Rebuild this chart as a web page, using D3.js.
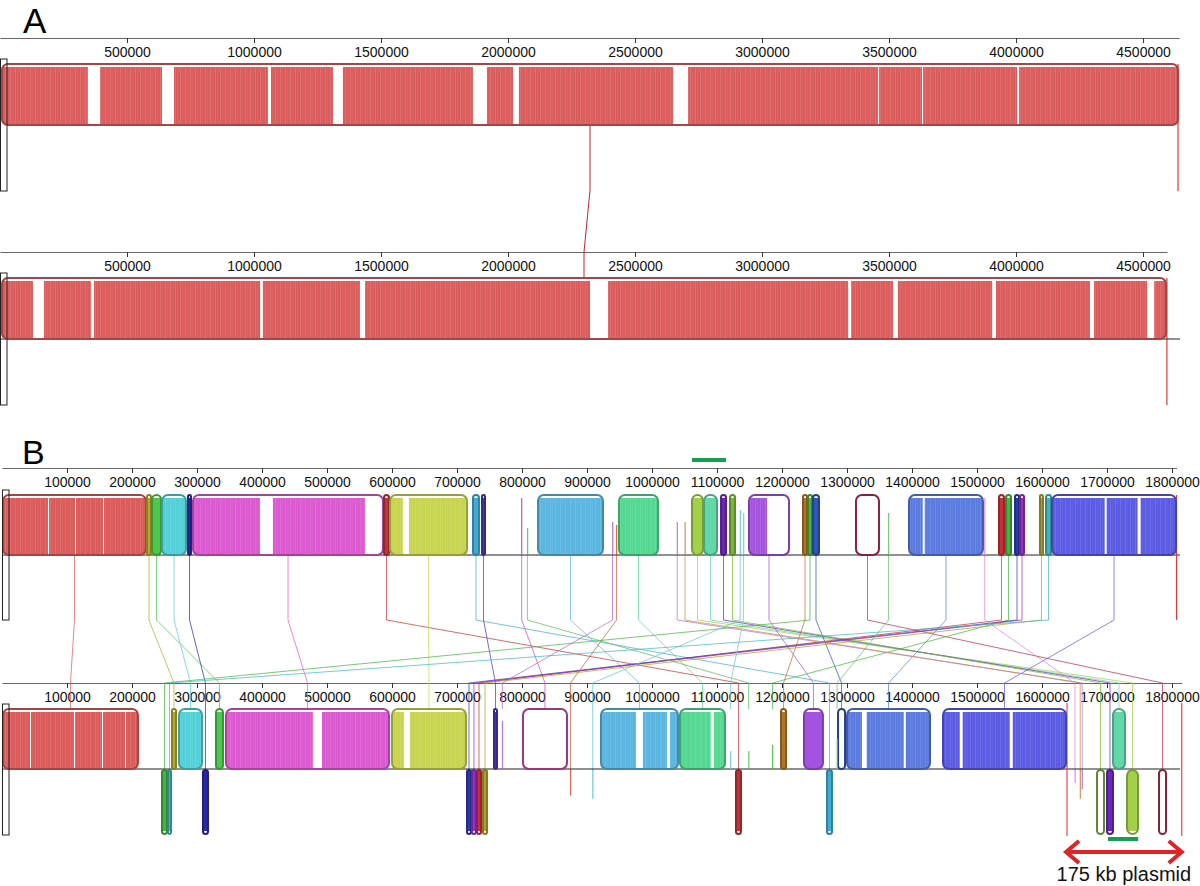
<!DOCTYPE html>
<html><head><meta charset="utf-8">
<script src="https://cdn.jsdelivr.net/npm/d3@7"></script>
<style>body{margin:0;background:#fff}svg{display:block}text{font-family:"Liberation Sans",Arial,Helvetica,sans-serif}</style>
</head><body><svg id="c" width="1200" height="886"></svg>
<script>
// ---------------- DATA ----------------
// Panel A: two ~4.6 Mb genomes, one LCB
const genomeLenA = [4641652, 4594000];
const ticksA = [500000,1000000,1500000,2000000,2500000,3000000,3500000,4000000,4500000];
const lcbA_g1 = [7900, 4638000];
const lcbA_g2 = [7900, 4590500];
const gapsA_g1 = [[346000,394000],[638000,685000],[1055000,1067000],[1311000,1350000],[1862000,1917000],[2020000,2043000],[2650000,2709000],[3457000,3461000],[3630000,3634000],[4004000,4012000]];
const gapsA_g2 = [[130000,173000],[358000,370000],[1024000,1035000],[1417000,1437000],[2323000,2394000],[3339000,3351000],[3516000,3535000],[3906000,3921000],[4291000,4307000],[4516000,4544000]];

// Panel B: 1.81 Mb genome vs genome with 175 kb plasmid
const genomeLenB = [1807000, 1815000];
const ticksB = [100000,200000,300000,400000,500000,600000,700000,800000,900000,1000000,1100000,1200000,1300000,1400000,1500000,1600000,1700000,1800000];
const chromBoundsB2 = [1638500, 1815000];
// LCB coordinates (bp) in genome 1 and genome 2
const lcbB_g1 = [[1500,221500],[223000,229200],[230800,244600],[246200,283100],[286200,290800],[293800,586200],[587700,595400],[596900,715400],[724600,733800],[738500,743100],
 [798500,800500],[824600,924600],[949200,1009200],[1061500,1078500],[1080000,1100000],[1106200,1113800],[1120000,1127700],[1149200,1210800],[1232300,1238500],[1240000,1246200],
 [1247700,1256900],[1313800,1349200],[1395400,1509200],[1533800,1541500],[1544600,1552300],[1558500,1564600],[1566200,1572300],[1596900,1601500],[1606200,1613800],[1615400,1806200],
 [807600,809000],[938500,940000],[944600,946000],[1038000,1039500],[1050000,1051500],[1135000,1136500],[1140000,1141500],[1363000,1364500],[1511000,1512500]];
const lcbB_g2 = [[1500,209200],[261500,267700],[329200,340000],[272300,307700],[309200,316900],[344600,595400],[1129200,1136900],[600000,713800],[1269200,1276900],[756900,761500],
 [801500,869200],[921500,1040000],[1043000,1112300],[1730800,1747700],[1709200,1727700],[1700000,1709200],[1684600,1695400],[1233800,1263000],[1198500,1206200],[246200,253800],
 [1286200,1297000],[1780000,1790800],[1300000,1427700],[730800,736900],[1184600,1186000],[715400,721500],[723000,729200],[740000,746200],[255400,260000],[1447700,1637000],
 [1148000,1149500],[769000,770500],[873800,875300],[1661000,1662500],[1658000,1659500],[908000,909500],[1120000,1121500],[1284000,1285500],[1650000,1651500]];
// 1 = inverted in genome 2
const lcbB_inv = [0,0,0,0,1,0,1,0,1,0, 0,0,0,1,0,1,1,0,0,1, 0,1,0,1,0,1,1,1,1,0, 0,0,1,1,1,1,0,0,1];
// similarity profile height (fraction of track) in genome 1 / genome 2
const lcbB_h1 = [1,1,1,1,1,1,1,1,1,1, .95,1,1,1,1,1,1,1,1,1, 1,0,1,1,1,1,1,1,1,1, .45,.55,.5,.55,.55,.75,.7,.7,.95];
const lcbB_h2 = [1,1,1,1,1,1,1,1,1,1, 0,1,1,1,1,1,0,1,1,1, 0,0,1,1,.4,1,1,1,1,1, .3,.8,.4,.3,.45,.45,.3,.5,.2];
const lcbB_color = ['#dc5a5a','#b4aa30','#4cc84c','#52d0d8','#2a2aa8','#dc58d0','#c43434','#c8d44e','#40acd4','#4a34b8',
 '#c848b0','#5ab6e0','#52d890','#a2d04a','#62d8a8','#6a28b8','#7ab83a','#a452e0','#b07828','#48b442',
 '#3054b8','#b82c4c','#5a7ae0','#c83038','#44b83c','#2c3ab0','#9c30bc','#b0a02a','#3cb8c4','#5a5ae2',
 '#58bc58','#b464cc','#c85a34','#a878d4','#d4884a','#64c4d4','#74c8c8','#64c064','#e084e0'];
// low-similarity (white) stretches inside LCBs: [lcb index, start, end]
const gapsB_g1 = [[0,70800,72300],[0,112300,113800],[0,155400,156900],[5,396800,416800],[5,558300,586200],[7,616700,626000],[17,1176900,1210800],[22,1416500,1419600],[29,1696400,1699500],[29,1747100,1751700]];
const gapsB_g2 = [[0,43100,44600],[0,110700,112200],[0,153800,155300],[0,189200,190700],[5,478300,492200],[7,618300,627500],[11,975400,986000],[11,1023000,1027400],[12,1090400,1095000],[22,1323000,1330400],[22,1387300,1390400],[29,1473400,1478000],[29,1550300,1555000]];
// highlighted region bars and plasmid annotation
const markB_g1 = [1061500, 1114000];
const markB_g2 = [1701500, 1748000];
const plasmidLabel = "175 kb plasmid";

// ---------------- DRAW ----------------
const svg = d3.select('#c');
const defs = svg.append('defs');
const pat = defs.append('pattern').attr('id','stripes').attr('patternUnits','userSpaceOnUse').attr('width',5).attr('height',10);
pat.append('rect').attr('x',0).attr('width',0.7).attr('height',10).attr('fill','#fff').attr('opacity',0.16);
pat.append('rect').attr('x',2.6).attr('width',0.5).attr('height',10).attr('fill','#fff').attr('opacity',0.1);
let clipId = 0;

function drawAxis(scale, y, ticks) {
  const ax = d3.axisBottom(scale).tickValues(ticks).tickSize(5).tickSizeOuter(0).tickPadding(4).tickFormat(d3.format('d'));
  const g = svg.append('g').attr('transform', `translate(0,${y})`).call(ax);
  g.select('.domain').attr('stroke', '#666').attr('stroke-width', 1.2);
  g.selectAll('.tick line').attr('stroke', '#333');
  g.selectAll('.tick text').attr('font-size', 14).attr('fill', '#111').attr('font-family','"Liberation Sans",Arial,sans-serif');
}

function drawBlock(x0, x1, yTop, yBot, color, h, gaps, inv, sw) {
  const w = x1 - x0;
  const H = yBot - yTop;
  if (w < 2.5) {
    const bh = h * H;
    svg.append('rect').attr('x', x0).attr('width', Math.max(w, 1.3))
      .attr('y', inv ? yTop : yBot - bh).attr('height', bh).attr('fill', color).attr('opacity', 0.85);
    return;
  }
  const rx = Math.min(6, w / 2);
  const id = 'cl' + (clipId++);
  defs.append('clipPath').attr('id', id).append('rect')
    .attr('x', x0).attr('y', yTop).attr('width', w).attr('height', H).attr('rx', rx).attr('ry', rx);
  const g = svg.append('g').attr('clip-path', `url(#${id})`);
  if (h > 0) {
    const fh = h * (H - 3);
    const fy = inv ? yTop : yBot - fh;
    g.append('rect').attr('x', x0).attr('width', w).attr('y', fy).attr('height', fh).attr('fill', color);
    if (w > 20) g.append('rect').attr('x', x0).attr('width', w).attr('y', fy).attr('height', fh).attr('fill', 'url(#stripes)');
    gaps.forEach(([a, b]) => {
      g.append('rect').attr('x', a).attr('width', Math.max(b - a, 1)).attr('y', yTop).attr('height', H).attr('fill', '#fff');
    });
  }
  svg.append('rect').attr('x', x0).attr('y', yTop).attr('width', w).attr('height', H).attr('rx', rx).attr('ry', rx)
    .attr('fill', 'none').attr('stroke', d3.color(color).darker(0.8)).attr('stroke-width', sw || 2);
}

// ===== Panel A =====
svg.append('text').attr('x', 23).attr('y', 33).attr('font-size', 35).attr('fill', '#000').text('A');
const xA = d3.scaleLinear().domain([0, genomeLenA[0]]).range([0, 1179]);
const xA2 = d3.scaleLinear().domain([0, genomeLenA[1]]).range([0, xA(genomeLenA[1])]);
drawAxis(xA, 38, ticksA);
drawAxis(xA2, 252, ticksA);

// connection line
{
  const c1 = xA((lcbA_g1[0] + lcbA_g1[1]) / 2), c2 = xA2((lcbA_g2[0] + lcbA_g2[1]) / 2);
  svg.append('path').attr('d', d3.line()([[c1, 125], [c1, 190], [c2, 252], [c2, 278]]))
    .attr('fill', 'none').attr('stroke', '#c0282c').attr('stroke-width', 1);
}
// genome-end markers
svg.append('line').attr('x1', xA(genomeLenA[0]) - 1).attr('x2', xA(genomeLenA[0]) - 1).attr('y1', 64).attr('y2', 191).attr('stroke', '#e03a3a').attr('stroke-width', 1.2);
svg.append('line').attr('x1', xA2(genomeLenA[1])).attr('x2', xA2(genomeLenA[1])).attr('y1', 278).attr('y2', 405).attr('stroke', '#e03a3a').attr('stroke-width', 1.2);
svg.append('line').attr('x1', 0).attr('x2', 1180).attr('y1', 339).attr('y2', 339).attr('stroke', '#222').attr('stroke-width', 1.2);
drawBlock(xA(lcbA_g1[0]), xA(lcbA_g1[1]), 64, 125, '#dc5c5c', 1, gapsA_g1.map(([a, b]) => [xA(a), xA(b)]), false, 2.2);
drawBlock(xA2(lcbA_g2[0]), xA2(lcbA_g2[1]), 278, 339, '#dc5c5c', 1, gapsA_g2.map(([a, b]) => [xA2(a), xA2(b)]), false, 2.2);
svg.append('rect').attr('x', 0.5).attr('y', 59).attr('width', 6.5).attr('height', 132).attr('fill', 'none').attr('stroke', '#222').attr('stroke-width', 1);
svg.append('rect').attr('x', 0.5).attr('y', 273).attr('width', 6.5).attr('height', 132).attr('fill', 'none').attr('stroke', '#222').attr('stroke-width', 1);

// ===== Panel B =====
svg.append('text').attr('x', 22).attr('y', 464).attr('font-size', 34).attr('fill', '#000').text('B');
const pxPerBp = 0.00065;
const xB1 = d3.scaleLinear().domain([0, genomeLenB[0]]).range([2, 2 + genomeLenB[0] * pxPerBp]);
const xB2 = d3.scaleLinear().domain([0, genomeLenB[1]]).range([2, 2 + genomeLenB[1] * pxPerBp]);
drawAxis(xB1, 468, ticksB);
drawAxis(xB2, 683, ticksB);

const G1top = 495, G1bot = 555, G2top = 709, G2bot = 769, G2invBot = 834;
// connecting lines
lcbB_g1.forEach((r, i) => {
  const c1 = xB1((r[0] + r[1]) / 2), q = lcbB_g2[i], c2 = xB2((q[0] + q[1]) / 2);
  const yEnd = lcbB_inv[i] ? 771 : G2top;
  svg.append('path').attr('d', d3.line()([[c1, G1bot], [c1, 620], [c2, 683], [c2, yEnd]]))
    .attr('fill', 'none').attr('stroke', lcbB_color[i]).attr('stroke-width', 0.8).attr('opacity', 0.9);
});
svg.append('line').attr('x1', 2).attr('x2', 1180).attr('y1', G1bot).attr('y2', G1bot).attr('stroke', '#222').attr('stroke-width', 1.2);
svg.append('line').attr('x1', 2).attr('x2', 1180).attr('y1', G2bot).attr('y2', G2bot).attr('stroke', '#222').attr('stroke-width', 1.2);
// chromosome boundaries
svg.append('line').attr('x1', xB1(genomeLenB[0])).attr('x2', xB1(genomeLenB[0])).attr('y1', G1top).attr('y2', 620).attr('stroke', '#e03a3a').attr('stroke-width', 1.2);
chromBoundsB2.forEach(b => {
  svg.append('line').attr('x1', xB2(b)).attr('x2', xB2(b)).attr('y1', 703).attr('y2', 836).attr('stroke', '#e8484a').attr('stroke-width', 1.2);
});
// blocks
lcbB_g1.forEach((r, i) => {
  const gaps = gapsB_g1.filter(g => g[0] === i).map(g => [xB1(g[1]), xB1(g[2])]);
  drawBlock(xB1(r[0]), xB1(r[1]), G1top, G1bot, lcbB_color[i], lcbB_h1[i], gaps, false);
});
lcbB_g2.forEach((r, i) => {
  const gaps = gapsB_g2.filter(g => g[0] === i).map(g => [xB2(g[1]), xB2(g[2])]);
  if (lcbB_inv[i]) drawBlock(xB2(r[0]), xB2(r[1]), G2bot + 1, G2invBot, lcbB_color[i], lcbB_h2[i], gaps, true);
  else drawBlock(xB2(r[0]), xB2(r[1]), G2top, G2bot, lcbB_color[i], lcbB_h2[i], gaps, false);
});
svg.append('rect').attr('x', 2.5).attr('y', 490).attr('width', 6.5).attr('height', 130).attr('fill', 'none').attr('stroke', '#222').attr('stroke-width', 1);
svg.append('rect').attr('x', 2.5).attr('y', 704).attr('width', 6.5).attr('height', 131).attr('fill', 'none').attr('stroke', '#222').attr('stroke-width', 1);

// annotations
svg.append('line').attr('x1', xB1(markB_g1[0])).attr('x2', xB1(markB_g1[1])).attr('y1', 460).attr('y2', 460).attr('stroke', '#14a050').attr('stroke-width', 4);
svg.append('line').attr('x1', xB2(markB_g2[0])).attr('x2', xB2(markB_g2[1])).attr('y1', 839).attr('y2', 839).attr('stroke', '#14a050').attr('stroke-width', 4);
{
  const a0 = xB2(chromBoundsB2[0]) - 2, a1 = xB2(chromBoundsB2[1]) + 1, ay = 852;
  svg.append('line').attr('x1', a0 + 2).attr('x2', a1 - 2).attr('y1', ay).attr('y2', ay).attr('stroke', '#e02426').attr('stroke-width', 4);
  svg.append('path').attr('d', `M${a0 + 14},${ay - 11} L${a0 + 1},${ay} L${a0 + 14},${ay + 11}`).attr('fill', 'none').attr('stroke', '#e02426').attr('stroke-width', 4).attr('stroke-linejoin', 'miter');
  svg.append('path').attr('d', `M${a1 - 14},${ay - 11} L${a1 - 1},${ay} L${a1 - 14},${ay + 11}`).attr('fill', 'none').attr('stroke', '#e02426').attr('stroke-width', 4).attr('stroke-linejoin', 'miter');
  svg.append('text').attr('x', (a0 + a1) / 2).attr('y', 881).attr('text-anchor', 'middle').attr('font-size', 20).attr('fill', '#111').text(plasmidLabel);
}
</script></body></html>
